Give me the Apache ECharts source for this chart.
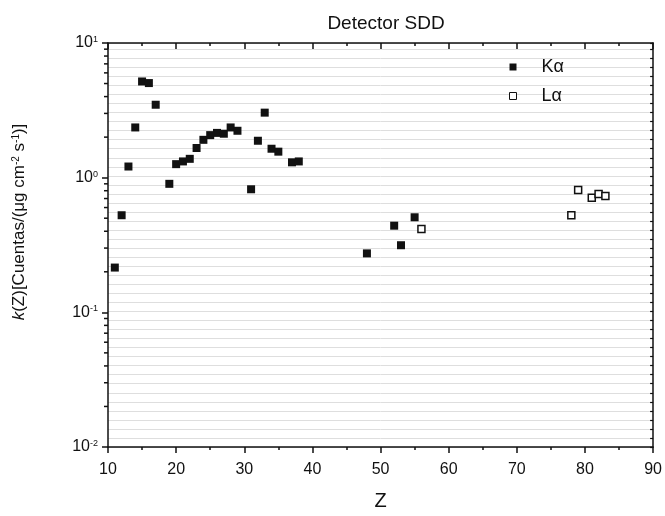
<!DOCTYPE html>
<html>
<head>
<meta charset="utf-8">
<script src="https://cdn.jsdelivr.net/npm/echarts@6/dist/echarts.min.js"></script>
<style>
    html, body { margin: 0; padding: 0; background: #fff; }
    #chart { width: 665px; height: 516px; }
</style>
</head>
<body>
<div id="chart"></div>
<script>
// Kα points (atomic number Z, k(Z))
const zKa = [11, 12, 13, 14, 15, 16, 17, 19, 20, 21, 22, 23, 24, 25, 26, 27, 28, 29, 31, 32, 33, 34, 35, 37, 38, 48, 52, 53, 55];
const kKa = [0.215, 0.526, 1.21, 2.36, 5.18, 5.04, 3.48, 0.90, 1.26, 1.32, 1.38, 1.66, 1.91, 2.07, 2.15, 2.12, 2.36, 2.23, 0.82, 1.88, 3.04, 1.64, 1.56, 1.30, 1.32, 0.274, 0.44, 0.315, 0.508];
// Lα points
const zLa = [56, 78, 79, 81, 82, 83];
const kLa = [0.415, 0.526, 0.81, 0.71, 0.757, 0.73];

// log axis minor tick values (2..9 per decade)
const logMinor = [0.02, 0.03, 0.04, 0.05, 0.06, 0.07, 0.08, 0.09,
    0.2, 0.3, 0.4, 0.5, 0.6, 0.7, 0.8, 0.9,
    2, 3, 4, 5, 6, 7, 8, 9];

const FONT = 'Liberation Sans, Arial, sans-serif';
const black = '#111';

const chart = echarts.init(document.getElementById('chart'));

const option = {
    backgroundColor: '#fff',
    animation: false,
    title: {
        text: 'Detector SDD',
        left: 381,
        top: 9,
        textAlign: 'center',
        textStyle: { fontFamily: FONT, fontSize: 19, fontWeight: 'normal', color: black }
    },
    legend: {
        orient: 'vertical',
        left: 504,
        top: 53,
        itemWidth: 7,
        itemHeight: 7,
        itemGap: 11,
        icon: 'rect',
        textStyle: { fontFamily: FONT, fontSize: 18, color: black, padding: [0, 0, 0, 20] },
        data: [
            { name: 'Kα', itemStyle: { color: black } },
            { name: 'Lα', itemStyle: { color: '#fff', borderColor: black, borderWidth: 1 } }
        ]
    },
    grid: { left: 108, right: 9, top: 43, bottom: 64 },
    xAxis: [
        {
            type: 'value', min: 10, max: 90, interval: 10, position: 'bottom',
            name: 'Z', nameLocation: 'middle', nameGap: 44,
            nameTextStyle: { fontFamily: FONT, fontSize: 20, color: black },
            axisLine: { lineStyle: { color: black, width: 1.5 } },
            axisTick: { inside: false, length: 6, lineStyle: { color: black, width: 1.5 } },
            minorTick: { show: true, splitNumber: 2, length: 3, lineStyle: { color: black, width: 1.5 } },
            axisLabel: { fontFamily: FONT, fontSize: 16, color: black, margin: 15 },
            splitLine: { show: false }
        },
        {
            type: 'value', min: 10, max: 90, interval: 10, position: 'top',
            axisLine: { lineStyle: { color: black, width: 1.5 } },
            axisTick: { inside: true, length: 6, lineStyle: { color: black, width: 1.5 } },
            minorTick: { show: true, splitNumber: 2, length: 3, lineStyle: { color: black, width: 1.5 } },
            axisLabel: { show: false },
            splitLine: { show: false }
        }
    ],
    yAxis: [
        {
            type: 'log', logBase: 10, min: 0.01, max: 10, splitNumber: 3, position: 'left',
            name: '{i|k}(Z)[Cuentas/(μg cm{s|-2} s{s|-1})]',
            nameLocation: 'middle', nameGap: 80,
            nameTextStyle: {
                fontFamily: FONT, fontSize: 17, color: black, padding: [0, 0, 0, 46],
                rich: {
                    i: { fontFamily: FONT, fontSize: 17, fontStyle: 'italic', color: black },
                    s: { fontFamily: FONT, fontSize: 10, color: black, verticalAlign: 'top', padding: [0, 0, 6, 0] }
                }
            },
            axisLine: { lineStyle: { color: black, width: 1.5 } },
            axisTick: { inside: false, length: 6, lineStyle: { color: black, width: 1.5 } },
            axisLabel: {
                fontFamily: FONT, fontSize: 16, color: black, margin: 10,
                formatter: function (v) {
                    const e = Math.round(Math.log10(v));
                    return '10{s|' + e + '}';
                },
                rich: {
                    s: { fontFamily: FONT, fontSize: 9, color: black, verticalAlign: 'top', padding: [0, 0, 6, 0] }
                }
            },
            splitLine: { show: false }
        },
        {
            type: 'value', min: 0, max: 44.7, interval: 1, position: 'right',
            axisLine: { show: true, lineStyle: { color: black, width: 1.5 } },
            axisTick: { inside: true, length: 3, lineStyle: { color: black, width: 1.2 } },
            axisLabel: { show: false },
            splitLine: { show: true, lineStyle: { color: '#dedede', width: 1 } }
        }
    ],
    series: [
        {
            name: 'Kα', type: 'scatter', xAxisIndex: 0, yAxisIndex: 0,
            symbol: 'rect', symbolSize: 8,
            itemStyle: { color: black, opacity: 1 },
            data: zKa.map((z, i) => [z, kKa[i]]),
            z: 5
        },
        {
            name: 'Lα', type: 'scatter', xAxisIndex: 0, yAxisIndex: 0,
            symbol: 'rect', symbolSize: 7,
            itemStyle: { color: '#fff', borderColor: black, borderWidth: 1.5, opacity: 1 },
            data: zLa.map((z, i) => [z, kLa[i]]),
            z: 5
        },
        {
            // minor ticks of the log axis (outside, left)
            type: 'custom', xAxisIndex: 0, yAxisIndex: 0, silent: true, clip: false,
            data: logMinor.map(v => [10, v]),
            renderItem: function (params, api) {
                const p = api.coord([10, api.value(1)]);
                return {
                    type: 'line',
                    shape: { x1: p[0] - 4, y1: p[1], x2: p[0], y2: p[1] },
                    style: { stroke: black, lineWidth: 1.5 }
                };
            },
            z: 4
        }
    ]
};

chart.setOption(option);
</script>
</body>
</html>
